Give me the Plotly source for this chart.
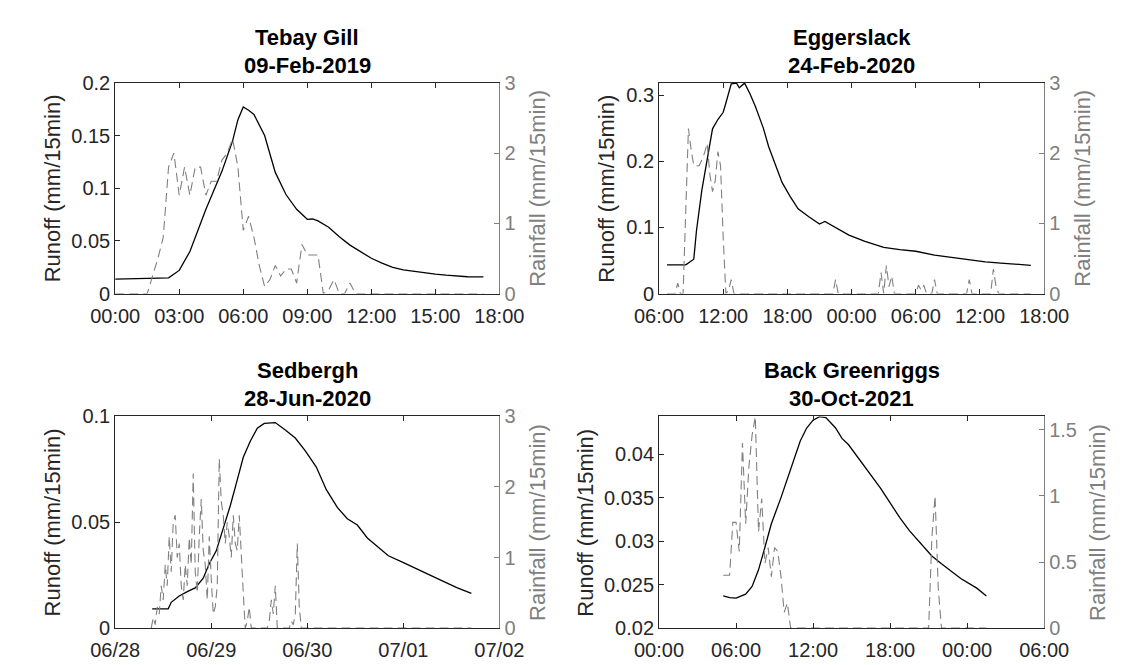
import plotly.graph_objects as go
import pandas as pd

W, H = 1130, 665
FONT = "Liberation Sans, Arial, sans-serif"
AX = "#262626"
GRAY = "#808080"

# ---------------- Panel 1: Tebay Gill, 09-Feb-2019 ----------------
tg_title = ["Tebay Gill", "09-Feb-2019"]
tg_runoff_time = ["2019-02-09 00:00", "2019-02-09 02:30", "2019-02-09 03:00", "2019-02-09 03:30",
                  "2019-02-09 04:15", "2019-02-09 05:00", "2019-02-09 05:30", "2019-02-09 05:45",
                  "2019-02-09 06:00", "2019-02-09 06:15", "2019-02-09 06:30", "2019-02-09 07:00",
                  "2019-02-09 07:30", "2019-02-09 08:00", "2019-02-09 08:30", "2019-02-09 09:00",
                  "2019-02-09 09:15", "2019-02-09 09:30", "2019-02-09 10:00", "2019-02-09 10:30",
                  "2019-02-09 11:00", "2019-02-09 11:30", "2019-02-09 12:00", "2019-02-09 12:30",
                  "2019-02-09 13:00", "2019-02-09 13:30", "2019-02-09 14:00", "2019-02-09 14:30",
                  "2019-02-09 15:00", "2019-02-09 15:30", "2019-02-09 16:00", "2019-02-09 16:30",
                  "2019-02-09 17:15"]
tg_runoff = [0.0137, 0.0150, 0.0220, 0.0400, 0.0800, 0.1160, 0.1450, 0.1650,
             0.1770, 0.1740, 0.1700, 0.1500, 0.1150, 0.0940, 0.0800, 0.0705,
             0.0708, 0.0690, 0.0630, 0.0540, 0.0460, 0.0400, 0.0335, 0.0290,
             0.0250, 0.0225, 0.0210, 0.0195, 0.0185, 0.0175, 0.0167, 0.0160,
             0.0158]
tg_rain_start = "2019-02-09 01:30"
tg_rain = [0, 0.25, 0.5, 0.8, 1.8, 2.0, 1.4, 1.8, 1.4, 1.8,
           1.8, 1.4, 1.6, 1.6, 1.9, 2.0, 2.2, 1.8, 0.9, 1.1,
           0.8, 0.4, 0.1, 0.2, 0.4, 0.25, 0.35, 0.35, 0.15, 0.7,
           0.55, 0.55, 0.55, 0, 0.05, 0.2, 0, 0, 0.15, 0]
tg_rain_pad = ["2019-02-09 00:00", "2019-02-09 17:15"]
tg_xrange = ["2019-02-09 00:00", "2019-02-09 18:00"]
tg_yrange = [0, 0.2]
tg_y2range = [0, 3]

# ---------------- Panel 2: Eggerslack, 24-Feb-2020 ----------------
eg_title = ["Eggerslack", "24-Feb-2020"]
eg_runoff_time = ["2020-02-24 06:45", "2020-02-24 08:30", "2020-02-24 09:15", "2020-02-24 09:30",
                  "2020-02-24 10:00", "2020-02-24 10:30", "2020-02-24 11:00", "2020-02-24 11:30",
                  "2020-02-24 12:00", "2020-02-24 12:15", "2020-02-24 12:45", "2020-02-24 13:15",
                  "2020-02-24 13:30", "2020-02-24 14:00", "2020-02-24 14:30", "2020-02-24 15:00",
                  "2020-02-24 15:45", "2020-02-24 16:15", "2020-02-24 17:00", "2020-02-24 17:30",
                  "2020-02-24 18:15", "2020-02-24 19:00", "2020-02-24 20:00", "2020-02-24 21:00",
                  "2020-02-24 21:30", "2020-02-24 22:30", "2020-02-24 23:45", "2020-02-25 01:15",
                  "2020-02-25 03:00", "2020-02-25 04:30", "2020-02-25 06:00", "2020-02-25 07:45",
                  "2020-02-25 09:30", "2020-02-25 11:00", "2020-02-25 12:30", "2020-02-25 14:15",
                  "2020-02-25 15:45", "2020-02-25 16:45"]
eg_runoff = [0.0433, 0.0435, 0.0520, 0.0950, 0.1560, 0.2050, 0.2490, 0.2630,
             0.2740, 0.2880, 0.3170, 0.3180, 0.3110, 0.3180, 0.3020, 0.2830,
             0.2500, 0.2220, 0.1900, 0.1680, 0.1470, 0.1280, 0.1160, 0.1050,
             0.1090, 0.1000, 0.0885, 0.0790, 0.0700, 0.0666, 0.0640, 0.0580,
             0.0540, 0.0505, 0.0480, 0.0457, 0.0437, 0.0428]
eg_rain_time = ["2020-02-24 06:45", "2020-02-24 07:30", "2020-02-24 07:45", "2020-02-24 08:00",
                "2020-02-24 08:15", "2020-02-24 08:45", "2020-02-24 09:00", "2020-02-24 09:15",
                "2020-02-24 09:30", "2020-02-24 09:45", "2020-02-24 10:00", "2020-02-24 10:15",
                "2020-02-24 10:30", "2020-02-24 10:45", "2020-02-24 11:00", "2020-02-24 11:15",
                "2020-02-24 11:30", "2020-02-24 11:45", "2020-02-24 12:00", "2020-02-24 12:15",
                "2020-02-24 12:30", "2020-02-24 12:45", "2020-02-24 13:00", "2020-02-24 22:15",
                "2020-02-24 22:30", "2020-02-24 22:45", "2020-02-25 02:30", "2020-02-25 02:45",
                "2020-02-25 03:00", "2020-02-25 03:15", "2020-02-25 03:30", "2020-02-25 03:45",
                "2020-02-25 04:00", "2020-02-25 06:00", "2020-02-25 06:15", "2020-02-25 06:30",
                "2020-02-25 06:45", "2020-02-25 07:00", "2020-02-25 07:30", "2020-02-25 07:45",
                "2020-02-25 08:00", "2020-02-25 10:45", "2020-02-25 11:00", "2020-02-25 11:15",
                "2020-02-25 13:00", "2020-02-25 13:15", "2020-02-25 13:30", "2020-02-25 13:45",
                "2020-02-25 16:45"]
eg_rain = [0, 0, 0.15, 0, 0, 2.35, 2.05, 1.82, 1.82, 1.82, 1.9, 2.0,
           2.14, 1.7, 1.45, 1.6, 2.02, 1.82, 0.8, 0, 0.05, 0.2, 0, 0,
           0.2, 0, 0, 0.3, 0, 0.4, 0.1, 0.25, 0, 0, 0.12, 0.05,
           0.12, 0, 0, 0.2, 0, 0, 0.2, 0, 0, 0.35, 0.1, 0,
           0]
eg_xrange = ["2020-02-24 06:00", "2020-02-25 18:00"]
eg_yrange = [0, 0.3185]
eg_y2range = [0, 3]

# ---------------- Panel 3: Sedbergh, 28-Jun-2020 ----------------
sb_title = ["Sedbergh", "28-Jun-2020"]
sb_runoff_time = ["2020-06-28 09:15", "2020-06-28 13:15", "2020-06-28 14:00", "2020-06-28 16:00",
                  "2020-06-28 18:15", "2020-06-28 20:00", "2020-06-28 22:00", "2020-06-28 23:30",
                  "2020-06-29 01:15", "2020-06-29 03:00", "2020-06-29 04:45", "2020-06-29 06:30",
                  "2020-06-29 08:00", "2020-06-29 09:45", "2020-06-29 11:30", "2020-06-29 13:15",
                  "2020-06-29 16:00", "2020-06-29 18:30", "2020-06-29 21:00", "2020-06-29 23:30",
                  "2020-06-30 02:15", "2020-06-30 04:45", "2020-06-30 07:30", "2020-06-30 10:00",
                  "2020-06-30 12:30", "2020-06-30 15:00", "2020-06-30 17:45", "2020-06-30 20:15",
                  "2020-06-30 23:45", "2020-07-01 03:15", "2020-07-01 06:30", "2020-07-01 10:00",
                  "2020-07-01 13:30", "2020-07-01 17:00"]
sb_runoff = [0.0091, 0.0091, 0.0122, 0.0152, 0.0175, 0.0190, 0.0236, 0.0304,
             0.0365, 0.0472, 0.0578, 0.0700, 0.0807, 0.0883, 0.0944, 0.0967,
             0.0971, 0.0936, 0.0898, 0.0837, 0.0761, 0.0654, 0.0570, 0.0517,
             0.0487, 0.0426, 0.0380, 0.0342, 0.0312, 0.0282, 0.0251, 0.0221,
             0.0190, 0.0164]
sb_rain_start = "2020-06-28 09:00"
sb_rain = [0, 0.15, 0.05, 0.3, 0.2, 0.6, 0.4, 0.9, 0.6, 1.3,
           0.8, 1.5, 1.6, 1.0, 1.2, 0.6, 0.4, 0.9, 0.6, 1.28,
           0.9, 2.19, 0.8, 0.5, 1.3, 1.83, 1.1, 0.9, 0.4, 1.3,
           0.7, 0.2, 0.3, 0.6, 2.4, 1.8, 1.6, 1.2, 1.5, 1.3,
           1.0, 1.6, 1.2, 1.1, 1.6, 0.96, 0.5, 0.0, 0.1, 0.3,
           0, 0, 0, 0, 0, 0, 0, 0, 0, 0.1,
           0.4, 0.2, 0.6, 0, 0, 0, 0, 0, 0, 0,
           0.1, 0.05, 0.2, 1.2, 0.3, 0]
sb_rain_pad = ["2020-06-28 09:00", "2020-07-01 17:00"]
sb_xrange = ["2020-06-28 00:00", "2020-07-02 00:00"]
sb_yrange = [0, 0.1]
sb_y2range = [0, 3]

# ---------------- Panel 4: Back Greenriggs, 30-Oct-2021 ----------------
bg_title = ["Back Greenriggs", "30-Oct-2021"]
bg_runoff_time = ["2021-10-30 05:00", "2021-10-30 05:30", "2021-10-30 06:00", "2021-10-30 06:45",
                  "2021-10-30 07:15", "2021-10-30 07:45", "2021-10-30 08:15", "2021-10-30 08:45",
                  "2021-10-30 09:30", "2021-10-30 10:00", "2021-10-30 10:30", "2021-10-30 11:00",
                  "2021-10-30 11:30", "2021-10-30 12:00", "2021-10-30 12:30", "2021-10-30 13:00",
                  "2021-10-30 13:45", "2021-10-30 14:15", "2021-10-30 14:45", "2021-10-30 15:30",
                  "2021-10-30 16:30", "2021-10-30 17:15", "2021-10-30 18:00", "2021-10-30 18:45",
                  "2021-10-30 19:30", "2021-10-30 20:30", "2021-10-30 21:15", "2021-10-30 22:00",
                  "2021-10-30 22:45", "2021-10-30 23:30", "2021-10-31 00:45", "2021-10-31 01:30"]
bg_runoff = [0.0237, 0.0235, 0.02345, 0.0239, 0.0248, 0.0267, 0.0293, 0.0320,
             0.0350, 0.0372, 0.0394, 0.0415, 0.0430, 0.0439, 0.0443, 0.0442,
             0.0430, 0.0418, 0.0411, 0.0396, 0.0377, 0.0361, 0.0344, 0.0327,
             0.0312, 0.0295, 0.0283, 0.0274, 0.0265, 0.0257, 0.0246, 0.0237]
bg_rain_start = "2021-10-30 05:00"
bg_rain = [0.4, 0.4, 0.4, 0.8, 0.8, 0.58, 1.4, 0.79, 1.22, 1.46,
           1.6, 0.73, 0.98, 0.49, 0.61, 0.39, 0.61, 0.58, 0.39, 0.12,
           0.19, 0]
bg_rain2_time = ["2021-10-30 21:00", "2021-10-30 21:15", "2021-10-30 21:30",
                 "2021-10-30 21:45", "2021-10-30 22:00", "2021-10-31 01:30"]
bg_rain2 = [0, 0.68, 1.0, 0.3, 0, 0]
bg_xrange = ["2021-10-30 00:00", "2021-10-31 06:00"]
bg_yrange = [0.02, 0.04433]
bg_y2range = [0, 1.602]

# ---------------- layout geometry (pixels) ----------------
def fx(px):
    return px / W

def fy(py):
    return 1 - py / H

fig = go.Figure()

panels = [
    dict(title=tg_title, box=(86, 488, 66, 284), xr=tg_xrange, yr=tg_yrange, y2r=tg_y2range,
         dtick=3 * 3600000, fmt="%H:%M", ydt=0.05, y2dt=1,
         rt=tg_runoff_time, rv=tg_runoff,
         raint=[tg_rain_pad[0]] + list(pd.date_range(tg_rain_start, periods=len(tg_rain), freq="15min")) + [tg_rain_pad[1]],
         rainv=[0] + tg_rain + [0],
         lx=20, rx=528),
    dict(title=eg_title, box=(655, 1058, 66, 284), xr=eg_xrange, yr=eg_yrange, y2r=eg_y2range,
         dtick=6 * 3600000, fmt="%H:%M", ydt=0.1, y2dt=1,
         rt=eg_runoff_time, rv=eg_runoff,
         raint=eg_rain_time, rainv=eg_rain,
         lx=600, rx=1098),
    dict(title=sb_title, box=(86, 488, 411, 630), xr=sb_xrange, yr=sb_yrange, y2r=sb_y2range,
         dtick=86400000, fmt="%m/%d", ydt=0.05, y2dt=1,
         rt=sb_runoff_time, rv=sb_runoff,
         raint=list(pd.date_range(sb_rain_start, periods=len(sb_rain), freq="30min")) + [sb_rain_pad[1]],
         rainv=sb_rain + [0],
         lx=20, rx=528),
    dict(title=bg_title, box=(655, 1058, 411, 630), xr=bg_xrange, yr=bg_yrange, y2r=bg_y2range,
         dtick=6 * 3600000, fmt="%H:%M", ydt=0.005, y2dt=0.5,
         rt=bg_runoff_time, rv=bg_runoff,
         raint=list(pd.date_range(bg_rain_start, periods=len(bg_rain), freq="15min")) + bg_rain2_time,
         rainv=bg_rain + bg_rain2,
         lx=578, rx=1114),
]

annotations = []
layout_axes = {}
for i, p in enumerate(panels):
    n = i + 1
    xname = "x" if n == 1 else f"x{n}"
    yl = 2 * n - 1
    yr = 2 * n
    ylname = "y" if yl == 1 else f"y{yl}"
    yrname = f"y{yr}"
    x0, x1, y0, y1 = p["box"]
    xkey = "xaxis" if n == 1 else f"xaxis{n}"
    ylkey = "yaxis" if yl == 1 else f"yaxis{yl}"
    yrkey = f"yaxis{yr}"

    fig.add_trace(go.Scatter(x=p["rt"], y=p["rv"], xaxis=xname, yaxis=ylname, mode="lines",
                             line=dict(color="black", width=1.3), showlegend=False))
    fig.add_trace(go.Scatter(x=p["raint"], y=p["rainv"], xaxis=xname, yaxis=yrname, mode="lines",
                             line=dict(color=GRAY, width=1.1, dash="9px,5px"), showlegend=False))

    layout_axes[xkey] = dict(domain=[fx(x0), fx(x1)], anchor=ylname, type="date", range=p["xr"],
                             tick0=p["xr"][0], dtick=p["dtick"], tickformat=p["fmt"],
                             ticks="inside", ticklen=5, tickcolor=AX, showline=True, linecolor=AX,
                             linewidth=1, mirror="ticks", showgrid=False, zeroline=False,
                             ticklabelstandoff=4,
                             tickfont=dict(family=FONT, size=20, color=AX))
    layout_axes[ylkey] = dict(domain=[fy(y1), fy(y0)], anchor=xname, range=p["yr"], dtick=p["ydt"],
                              tick0=0, ticks="inside", ticklen=5, tickcolor=AX, showline=True,
                              linecolor=AX, linewidth=1, showgrid=False, zeroline=False,
                              tickfont=dict(family=FONT, size=20, color=AX))
    layout_axes[yrkey] = dict(overlaying=ylname, side="right", anchor=xname, range=p["y2r"],
                              dtick=p["y2dt"], tick0=0, ticks="inside", ticklen=5, tickcolor=GRAY,
                              showline=True, linecolor=GRAY, linewidth=1, showgrid=False,
                              zeroline=False, tickfont=dict(family=FONT, size=20, color=GRAY))

    cx = (x0 + x1) / 2
    cy = (y0 + y1) / 2
    annotations.append(dict(text="<b>" + p["title"][0] + "</b>", x=fx(cx), y=fy(y0 - 47),
                            xref="paper", yref="paper", xanchor="center", yanchor="middle",
                            showarrow=False, font=dict(family=FONT, size=22, color="black")))
    annotations.append(dict(text="<b>" + p["title"][1] + "</b>", x=fx(cx), y=fy(y0 - 18),
                            xref="paper", yref="paper", xanchor="center", yanchor="middle",
                            showarrow=False, font=dict(family=FONT, size=22, color="black")))
    annotations.append(dict(text="Runoff (mm/15min)", x=fx(p["lx"]), y=fy(cy), xref="paper",
                            yref="paper", xanchor="center", yanchor="middle", textangle=-90,
                            showarrow=False, font=dict(family=FONT, size=22, color=AX)))
    annotations.append(dict(text="Rainfall (mm/15min)", x=fx(p["rx"]), y=fy(cy), xref="paper",
                            yref="paper", xanchor="center", yanchor="middle", textangle=-90,
                            showarrow=False, font=dict(family=FONT, size=22, color=GRAY)))

fig.update_layout(width=W, height=H, margin=dict(l=0, r=0, t=0, b=0),
                  paper_bgcolor="white", plot_bgcolor="white",
                  annotations=annotations, showlegend=False, **layout_axes)

fig.write_html("out.html")
